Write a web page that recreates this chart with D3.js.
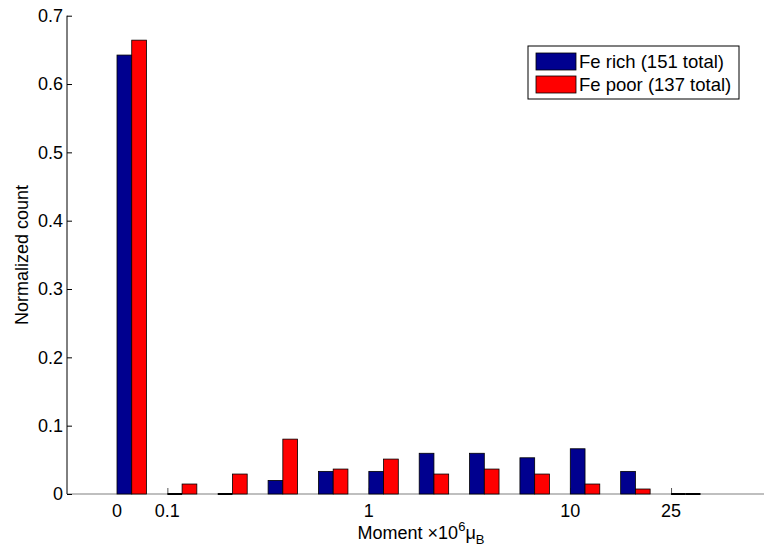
<!DOCTYPE html>
<html>
<head>
<meta charset="utf-8">
<script src="https://cdn.jsdelivr.net/npm/d3@7"></script>
<style>
  body { margin: 0; background: #fff; }
  text { font-family: "Liberation Sans", Arial, Helvetica, sans-serif; fill: #000; }
</style>
</head>
<body>
<div id="chart"></div>
<script>
// histogram bins (index of each group of bars)
var bins = d3.range(12);
// tick labels sit on the left edge of these bins
var tickBins = [0, 1, 5, 9, 11];
var tickLabels = ["0", "0.1", "1", "10", "25"];
var yTicks = [0, 0.1, 0.2, 0.3, 0.4, 0.5, 0.6, 0.7];

var feRich = [0.6424, 0, 0, 0.0199, 0.0331, 0.0331, 0.0596, 0.0596, 0.0530, 0.0662, 0.0331, 0];
var fePoor = [0.6642, 0.0146, 0.0292, 0.0803, 0.0365, 0.0511, 0.0292, 0.0365, 0.0292, 0.0146, 0.0073, 0];

var seriesNames = ["Fe rich (151 total)", "Fe poor (137 total)"];
var colors = ["#00008f", "#ff0000"];

var width = 764, height = 550;

var svg = d3.select("#chart")
            .append("svg")
            .attr("width", width)
            .attr("height", height);

var y = d3.scaleLinear()
          .domain([0, 0.7])
          .range([494, 15.7]);

var x = d3.scaleBand()
          .domain(bins)
          .range([117, 700.5])
          .paddingInner(0.415)
          .paddingOuter(0);

var xs = d3.scaleBand()
           .domain([0, 1])
           .range([0, x.bandwidth()]);

// x tick marks go under the bars (only the empty bins show them)
svg.append("g")
   .selectAll("line")
   .data(tickBins)
   .enter().append("line")
   .attr("x1", d => x(d) + 0.5)
   .attr("x2", d => x(d) + 0.5)
   .attr("y1", y(0))
   .attr("y2", y(0) - 6)
   .style("stroke", "#555")
   .style("stroke-width", 1);

// baseline
svg.append("line")
   .attr("x1", 67).attr("x2", 764)
   .attr("y1", y(0)).attr("y2", y(0))
   .style("stroke", "#808080")
   .style("stroke-width", 1.2);

// bars
[feRich, fePoor].forEach(function(vals, s) {
  var g = svg.append("g");
  g.selectAll("rect")
   .data(vals.map((v, i) => ({v: v, i: i})).filter(d => d.v > 0))
   .enter().append("rect")
   .attr("x", d => x(bins[d.i]) + xs(s))
   .attr("y", d => y(d.v))
   .attr("width", xs.bandwidth())
   .attr("height", d => y(0) - y(d.v))
   .style("fill", colors[s])
   .style("stroke", "#000")
   .style("stroke-width", 0.8);
  // empty bins collapse to a dark edge on the baseline
  g.selectAll("line")
   .data(vals.map((v, i) => ({v: v, i: i})).filter(d => d.v === 0))
   .enter().append("line")
   .attr("x1", d => x(bins[d.i]) + xs(s))
   .attr("x2", d => x(bins[d.i]) + xs(s) + xs.bandwidth())
   .attr("y1", y(0))
   .attr("y2", y(0))
   .style("stroke", "#000")
   .style("stroke-width", 2);
});

// y axis
var yAxis = d3.axisLeft(y)
              .tickValues(yTicks)
              .tickSize(-5)
              .tickPadding(4)
              .tickFormat(d => d === 0 ? "0" : d3.format(".1f")(d));

var gy = svg.append("g")
            .attr("transform", "translate(67,0)")
            .call(yAxis);
gy.select(".domain").attr("d", "M0," + y(0.7) + "V" + y(0)).style("stroke", "#000");
gy.selectAll(".tick line").style("stroke", "#000");
gy.selectAll("text").style("font-size", "18px").style("font-family", null);

// x tick labels
svg.append("g")
   .selectAll("text")
   .data(tickBins)
   .enter().append("text")
   .attr("x", d => x(d))
   .attr("y", 517)
   .attr("text-anchor", "middle")
   .style("font-size", "18px")
   .text((d, i) => tickLabels[i]);

// axis labels
svg.append("text")
   .attr("transform", "translate(28,255) rotate(-90)")
   .attr("text-anchor", "middle")
   .style("font-size", "18px")
   .text("Normalized count");

var xl = svg.append("text")
            .attr("x", 421)
            .attr("y", 539)
            .attr("text-anchor", "middle")
            .style("font-size", "18px");
xl.append("tspan").text("Moment \u00d710");
xl.append("tspan").attr("dy", -8).style("font-size", "13px").text("6");
xl.append("tspan").attr("dy", 8).text("\u03bc");
xl.append("tspan").attr("dy", 5).style("font-size", "13px").text("B");

// legend
var legend = svg.append("g").attr("transform", "translate(528,46)");
legend.append("rect")
      .attr("width", 211)
      .attr("height", 53)
      .style("fill", "#fff")
      .style("stroke", "#000")
      .style("stroke-width", 1);

var item = legend.selectAll(".item")
                 .data(seriesNames)
                 .enter().append("g")
                 .attr("transform", (d, i) => "translate(8," + (7 + i * 23) + ")");
item.append("rect")
    .attr("width", 40)
    .attr("height", 17)
    .style("fill", (d, i) => colors[i])
    .style("stroke", "#000")
    .style("stroke-width", 0.8);
item.append("text")
    .attr("x", 43)
    .attr("y", 15)
    .style("font-size", "18.5px")
    .text(d => d);
</script>
</body>
</html>
